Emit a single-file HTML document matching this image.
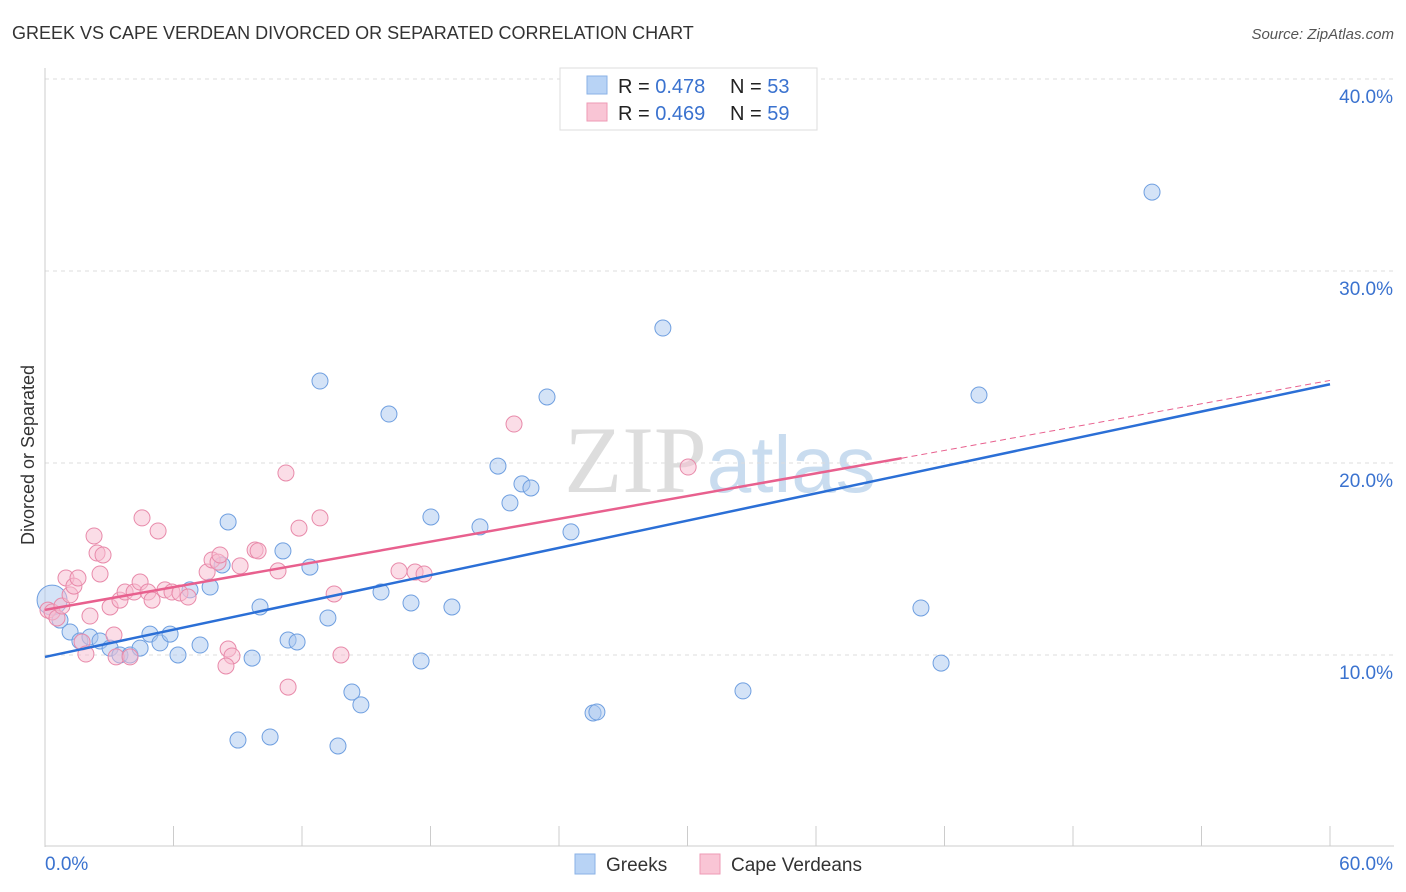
<!DOCTYPE html>
<html><head><meta charset="utf-8"><style>
body{margin:0;background:#fff;font-family:"Liberation Sans",sans-serif;}
svg{display:block}
</style></head><body>
<svg id="chart" width="1406" height="892">
<text x="12" y="39" font-size="18" fill="#333">GREEK VS CAPE VERDEAN DIVORCED OR SEPARATED CORRELATION CHART</text>
<text x="1394" y="39" font-size="15" fill="#555" font-style="italic" text-anchor="end">Source: ZipAtlas.com</text>
<text x="720" y="492" font-size="95" fill="#ddd" text-anchor="middle" font-family="Liberation Serif">ZIP<tspan fill="#c9dcef" font-family="Liberation Sans" font-size="80">atlas</tspan></text>
<text transform="translate(34,455) rotate(-90)" font-size="18" fill="#333" text-anchor="middle">Divorced or Separated</text>
<g id="grid"></g><g id="axes"></g><g id="marks"></g>
<g>
<rect x="560" y="68" width="257" height="62" fill="#fff" stroke="#ddd"/>
<rect x="587" y="76" width="20" height="18" fill="#b8d3f5" stroke="#8ab2e6"/>
<rect x="587" y="103" width="20" height="18" fill="#f9c5d5" stroke="#ee9ab5"/>
<text x="618" y="93" font-size="20" fill="#222">R = <tspan fill="#3a72cf">0.478</tspan><tspan x="730">N = </tspan><tspan fill="#3a72cf">53</tspan></text>
<text x="618" y="120" font-size="20" fill="#222">R = <tspan fill="#3a72cf">0.469</tspan><tspan x="730">N = </tspan><tspan fill="#3a72cf">59</tspan></text>
</g>
<g>
<rect x="575" y="854" width="20" height="20" fill="#b8d3f5" stroke="#8ab2e6"/>
<text x="606" y="871" font-size="19" fill="#333">Greeks</text>
<rect x="700" y="854" width="20" height="20" fill="#f9c5d5" stroke="#ee9ab5"/>
<text x="731" y="871" font-size="19" fill="#333">Cape Verdeans</text>
</g>
</svg>
<script>
const blueX=[0.33,0.70,1.17,1.63,2.10,2.57,3.04,3.50,3.97,4.44,4.90,5.37,5.84,6.21,6.77,7.24,7.71,8.27,8.55,9.01,9.67,10.04,10.51,11.11,11.35,11.77,12.37,12.84,13.21,13.68,14.33,14.75,15.69,16.06,17.09,17.56,18.02,19.00,20.31,21.15,21.71,22.27,22.69,23.44,24.56,25.59,25.77,28.85,32.59,40.90,41.84,43.61,51.69];
const blueY=[12.86,11.82,11.20,10.73,10.94,10.73,10.36,10.00,10.00,10.36,11.09,10.63,11.09,10.00,13.39,10.52,13.54,14.69,16.93,5.57,9.84,12.50,5.73,15.42,10.78,10.68,14.58,24.27,11.93,5.26,8.07,7.40,13.28,22.55,12.71,9.69,17.19,12.50,16.67,19.84,17.92,18.91,18.70,23.44,16.41,6.98,7.03,27.03,8.13,12.45,9.58,23.54,34.11];
const pinkX=[0.14,0.33,0.56,0.79,0.98,1.17,1.35,1.54,1.73,1.91,2.10,2.29,2.43,2.57,2.71,3.04,3.22,3.32,3.50,3.74,3.97,4.16,4.44,4.53,4.81,5.00,5.28,5.60,5.93,6.30,6.68,7.57,7.80,8.08,8.17,8.55,8.73,9.11,9.81,9.95,10.88,11.25,11.35,11.86,12.84,13.50,13.82,16.53,17.28,17.70,21.90,30.03,8.45];
const pinkY=[12.34,12.24,11.93,12.55,14.01,13.13,13.59,14.01,10.68,10.05,12.03,16.20,15.31,14.22,15.21,12.50,11.04,9.90,12.86,13.28,9.90,13.28,13.80,17.14,13.28,12.86,16.46,13.39,13.28,13.23,13.02,14.32,14.95,14.84,15.21,10.31,9.95,14.64,15.47,15.42,14.38,19.48,8.33,16.61,17.14,13.18,10.00,14.38,14.32,14.22,22.03,19.79,9.43];
const yTicks=[10,20,30,40];
const xTickLabels=["0.0%","60.0%"];
const blueTrend=[[0,9.9],[60,24.1]];
const pinkTrend=[[0,12.35],[40,20.25],[60,24.3]];
const NS="http://www.w3.org/2000/svg";
const sx=v=>45+v/60*1285, sy=v=>847-v*19.2;
function mk(t,a,p){const e=document.createElementNS(NS,t);for(const k in a)e.setAttribute(k,a[k]);p.appendChild(e);return e;}
const grid=document.getElementById('grid'),axes=document.getElementById('axes'),marks=document.getElementById('marks');
yTicks.forEach(t=>{
 const l=mk('line',{x1:45,x2:1394,y1:sy(t),y2:sy(t),stroke:'#ddd','stroke-dasharray':'4,4'},grid);
 
 
 const tx=mk('text',{x:1393,y:sy(t)+24,'font-size':19,fill:'#3a72cf','text-anchor':'end'},axes);
 tx.textContent=t.toFixed(1)+'%';
 
 
});
mk('line',{x1:45,x2:45,y1:68,y2:847,stroke:'#ccc'},axes);
mk('line',{x1:45,x2:1394,y1:846,y2:846,stroke:'#ccc'},axes);
for(let i=0;i<=10;i++){const l=mk('line',{x1:sx(i*6),x2:sx(i*6),y1:826,y2:846,stroke:'#ccc'},axes);
 
 }
const x0=mk('text',{x:45,y:870,'font-size':19,fill:'#3a72cf'},axes);x0.textContent=xTickLabels[0];


const x1=mk('text',{x:1393,y:870,'font-size':19,fill:'#3a72cf','text-anchor':'end'},axes);x1.textContent=xTickLabels[1];


function dots(X,Y,fill,stroke,name){X.forEach((x,i)=>{
 const c=mk('circle',{cx:sx(x),cy:sy(Y[i]),r:(name==='greek-point'&&i===0)?15:8,fill:fill,'fill-opacity':0.5,stroke:stroke,'stroke-width':1},marks);
 
 });}
dots(blueX,blueY,'#a9c8f0','#6f9fe0','greek-point');
dots(pinkX,pinkY,'#f7bcd0','#e88aaa','cape-verdean-point');
const bl=mk('line',{x1:sx(blueTrend[0][0]),y1:sy(blueTrend[0][1]),x2:sx(blueTrend[1][0]),y2:sy(blueTrend[1][1]),stroke:'#2b6fd6','stroke-width':2.5},marks);


const pl=mk('line',{x1:sx(pinkTrend[0][0]),y1:sy(pinkTrend[0][1]),x2:sx(pinkTrend[1][0]),y2:sy(pinkTrend[1][1]),stroke:'#e8608e','stroke-width':2.5},marks);


const pd=mk('line',{x1:sx(pinkTrend[1][0]),y1:sy(pinkTrend[1][1]),x2:sx(pinkTrend[2][0]),y2:sy(pinkTrend[2][1]),stroke:'#e8608e','stroke-width':1,'stroke-dasharray':'6,4'},marks);


</script>
</body></html>
